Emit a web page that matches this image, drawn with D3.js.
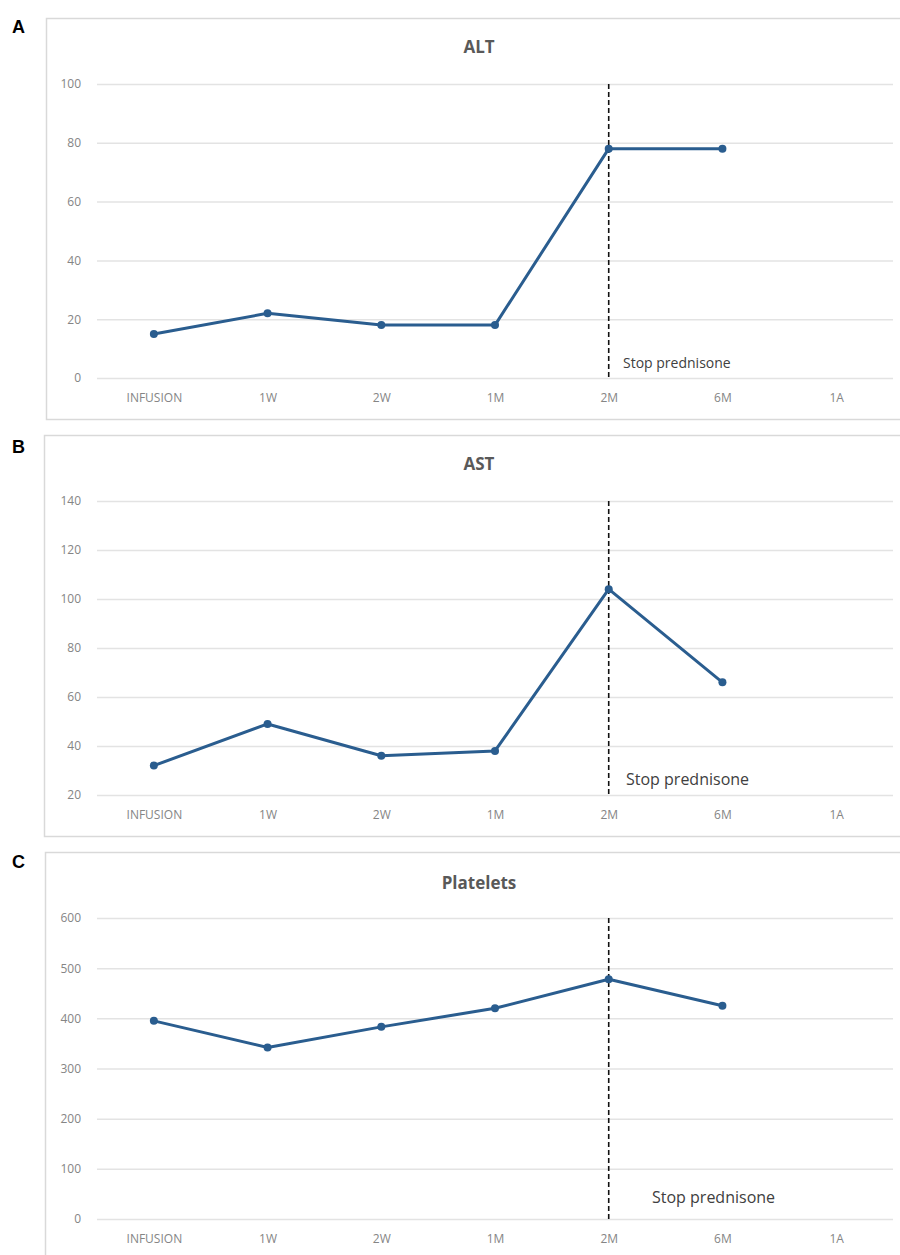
<!DOCTYPE html>
<html>
<head>
<meta charset="utf-8">
<script src="https://cdn.jsdelivr.net/npm/d3@7"></script>
<style>
  body { margin: 0; background: #fff; }
  svg { display: block; }
</style>
</head>
<body>
<div id="chart"></div>
<script>
// data
const categories = ['INFUSION', '1W', '2W', '1M', '2M', '6M', '1A'];
const altValues = [15, 22, 18, 18, 78, 78];
const astValues = [32, 49, 36, 38, 104, 66];
const plateletValues = [395, 342, 383, 420, 478, 425];
const altTicks = [0, 20, 40, 60, 80, 100];
const astTicks = [20, 40, 60, 80, 100, 120, 140];
const plateletTicks = [0, 100, 200, 300, 400, 500, 600];
const stopAt = '2M';
const stopLabel = 'Stop prednisone';

const width = 900, height = 1255;
const lineColor = '#2a5d8f';
const gridColor = '#e3e3e3';
const tickColor = '#858585';

// layout of each panel
const panels = [
  {letter: 'A', title: 'ALT', values: altValues, ticks: altTicks,
   box: [46, 18, 419], yRange: [378, 84], titleY: 53, letterY: 33,
   noteX: 623, noteY: 368, noteSize: 14},
  {letter: 'B', title: 'AST', values: astValues, ticks: astTicks,
   box: [44, 435, 836], yRange: [795, 501], titleY: 470, letterY: 453,
   noteX: 626, noteY: 785, noteSize: 16},
  {letter: 'C', title: 'Platelets', values: plateletValues, ticks: plateletTicks,
   box: [45, 852, 1270], yRange: [1219, 918], titleY: 889, letterY: 868,
   noteX: 652, noteY: 1203, noteSize: 16}
];

const svg = d3.select('#chart').append('svg')
  .attr('width', width)
  .attr('height', height);

const x = d3.scalePoint()
  .domain(categories)
  .range([97, 893])
  .padding(0.5);

panels.forEach(function (p) {
  const g = svg.append('g');
  const y = d3.scaleLinear()
    .domain([p.ticks[0], p.ticks[p.ticks.length - 1]])
    .range(p.yRange);

  // chart frame
  g.append('rect')
    .attr('x', p.box[0] + 0.5)
    .attr('y', p.box[1] + 0.5)
    .attr('width', 920 - p.box[0])
    .attr('height', p.box[2] - p.box[1])
    .attr('fill', 'none')
    .attr('stroke', '#d9d9d9')
    .attr('stroke-width', 1.5);

  // panel letter
  g.append('text')
    .attr('x', 12)
    .attr('y', p.letterY)
    .text(p.letter)
    .style('font-family', 'Liberation Sans, Arial, sans-serif')
    .style('font-weight', 'bold')
    .style('font-size', '18px')
    .style('fill', '#000');

  // title
  g.append('text')
    .attr('x', 479)
    .attr('y', p.titleY)
    .attr('text-anchor', 'middle')
    .text(p.title)
    .style('font-family', 'Open Sans, sans-serif')
    .style('font-weight', 'bold')
    .style('font-size', '17px')
    .style('fill', '#595959');

  // y axis with gridlines
  const yAxis = g.append('g')
    .attr('transform', 'translate(97,0)')
    .call(d3.axisLeft(y)
      .tickValues(p.ticks)
      .tickSize(-(893 - 97))
      .tickPadding(16));
  yAxis.select('.domain').remove();
  yAxis.selectAll('line').attr('stroke', gridColor).attr('stroke-width', 1.5);
  yAxis.selectAll('text')
    .style('font-family', 'Open Sans, sans-serif')
    .style('font-size', '12px')
    .style('fill', tickColor);

  // x axis labels
  const xAxis = g.append('g')
    .attr('transform', 'translate(0,' + p.yRange[0] + ')')
    .call(d3.axisBottom(x).tickSize(0).tickPadding(15));
  xAxis.select('.domain').remove();
  xAxis.selectAll('text')
    .style('font-family', 'Open Sans, sans-serif')
    .style('font-size', '12px')
    .style('fill', tickColor);

  // stop marker
  g.append('line')
    .attr('x1', x(stopAt)).attr('x2', x(stopAt))
    .attr('y1', p.yRange[1]).attr('y2', p.yRange[0])
    .attr('stroke', '#111')
    .attr('stroke-width', 1.6)
    .attr('stroke-dasharray', '5,3');

  g.append('text')
    .attr('x', p.noteX)
    .attr('y', p.noteY)
    .text(stopLabel)
    .style('font-family', 'Open Sans, sans-serif')
    .style('font-size', p.noteSize + 'px')
    .style('fill', '#404040');

  // series
  const pts = p.values.map((v, i) => ({c: categories[i], v: v}));
  g.append('path')
    .datum(pts)
    .attr('fill', 'none')
    .attr('stroke', lineColor)
    .attr('stroke-width', 3)
    .attr('stroke-linejoin', 'round')
    .attr('d', d3.line().x(d => x(d.c)).y(d => y(d.v)));

  g.selectAll('.dot')
    .data(pts)
    .enter()
    .append('circle')
    .attr('class', 'dot')
    .attr('cx', d => x(d.c))
    .attr('cy', d => y(d.v))
    .attr('r', 4)
    .attr('fill', lineColor);
});
</script>
</body>
</html>
